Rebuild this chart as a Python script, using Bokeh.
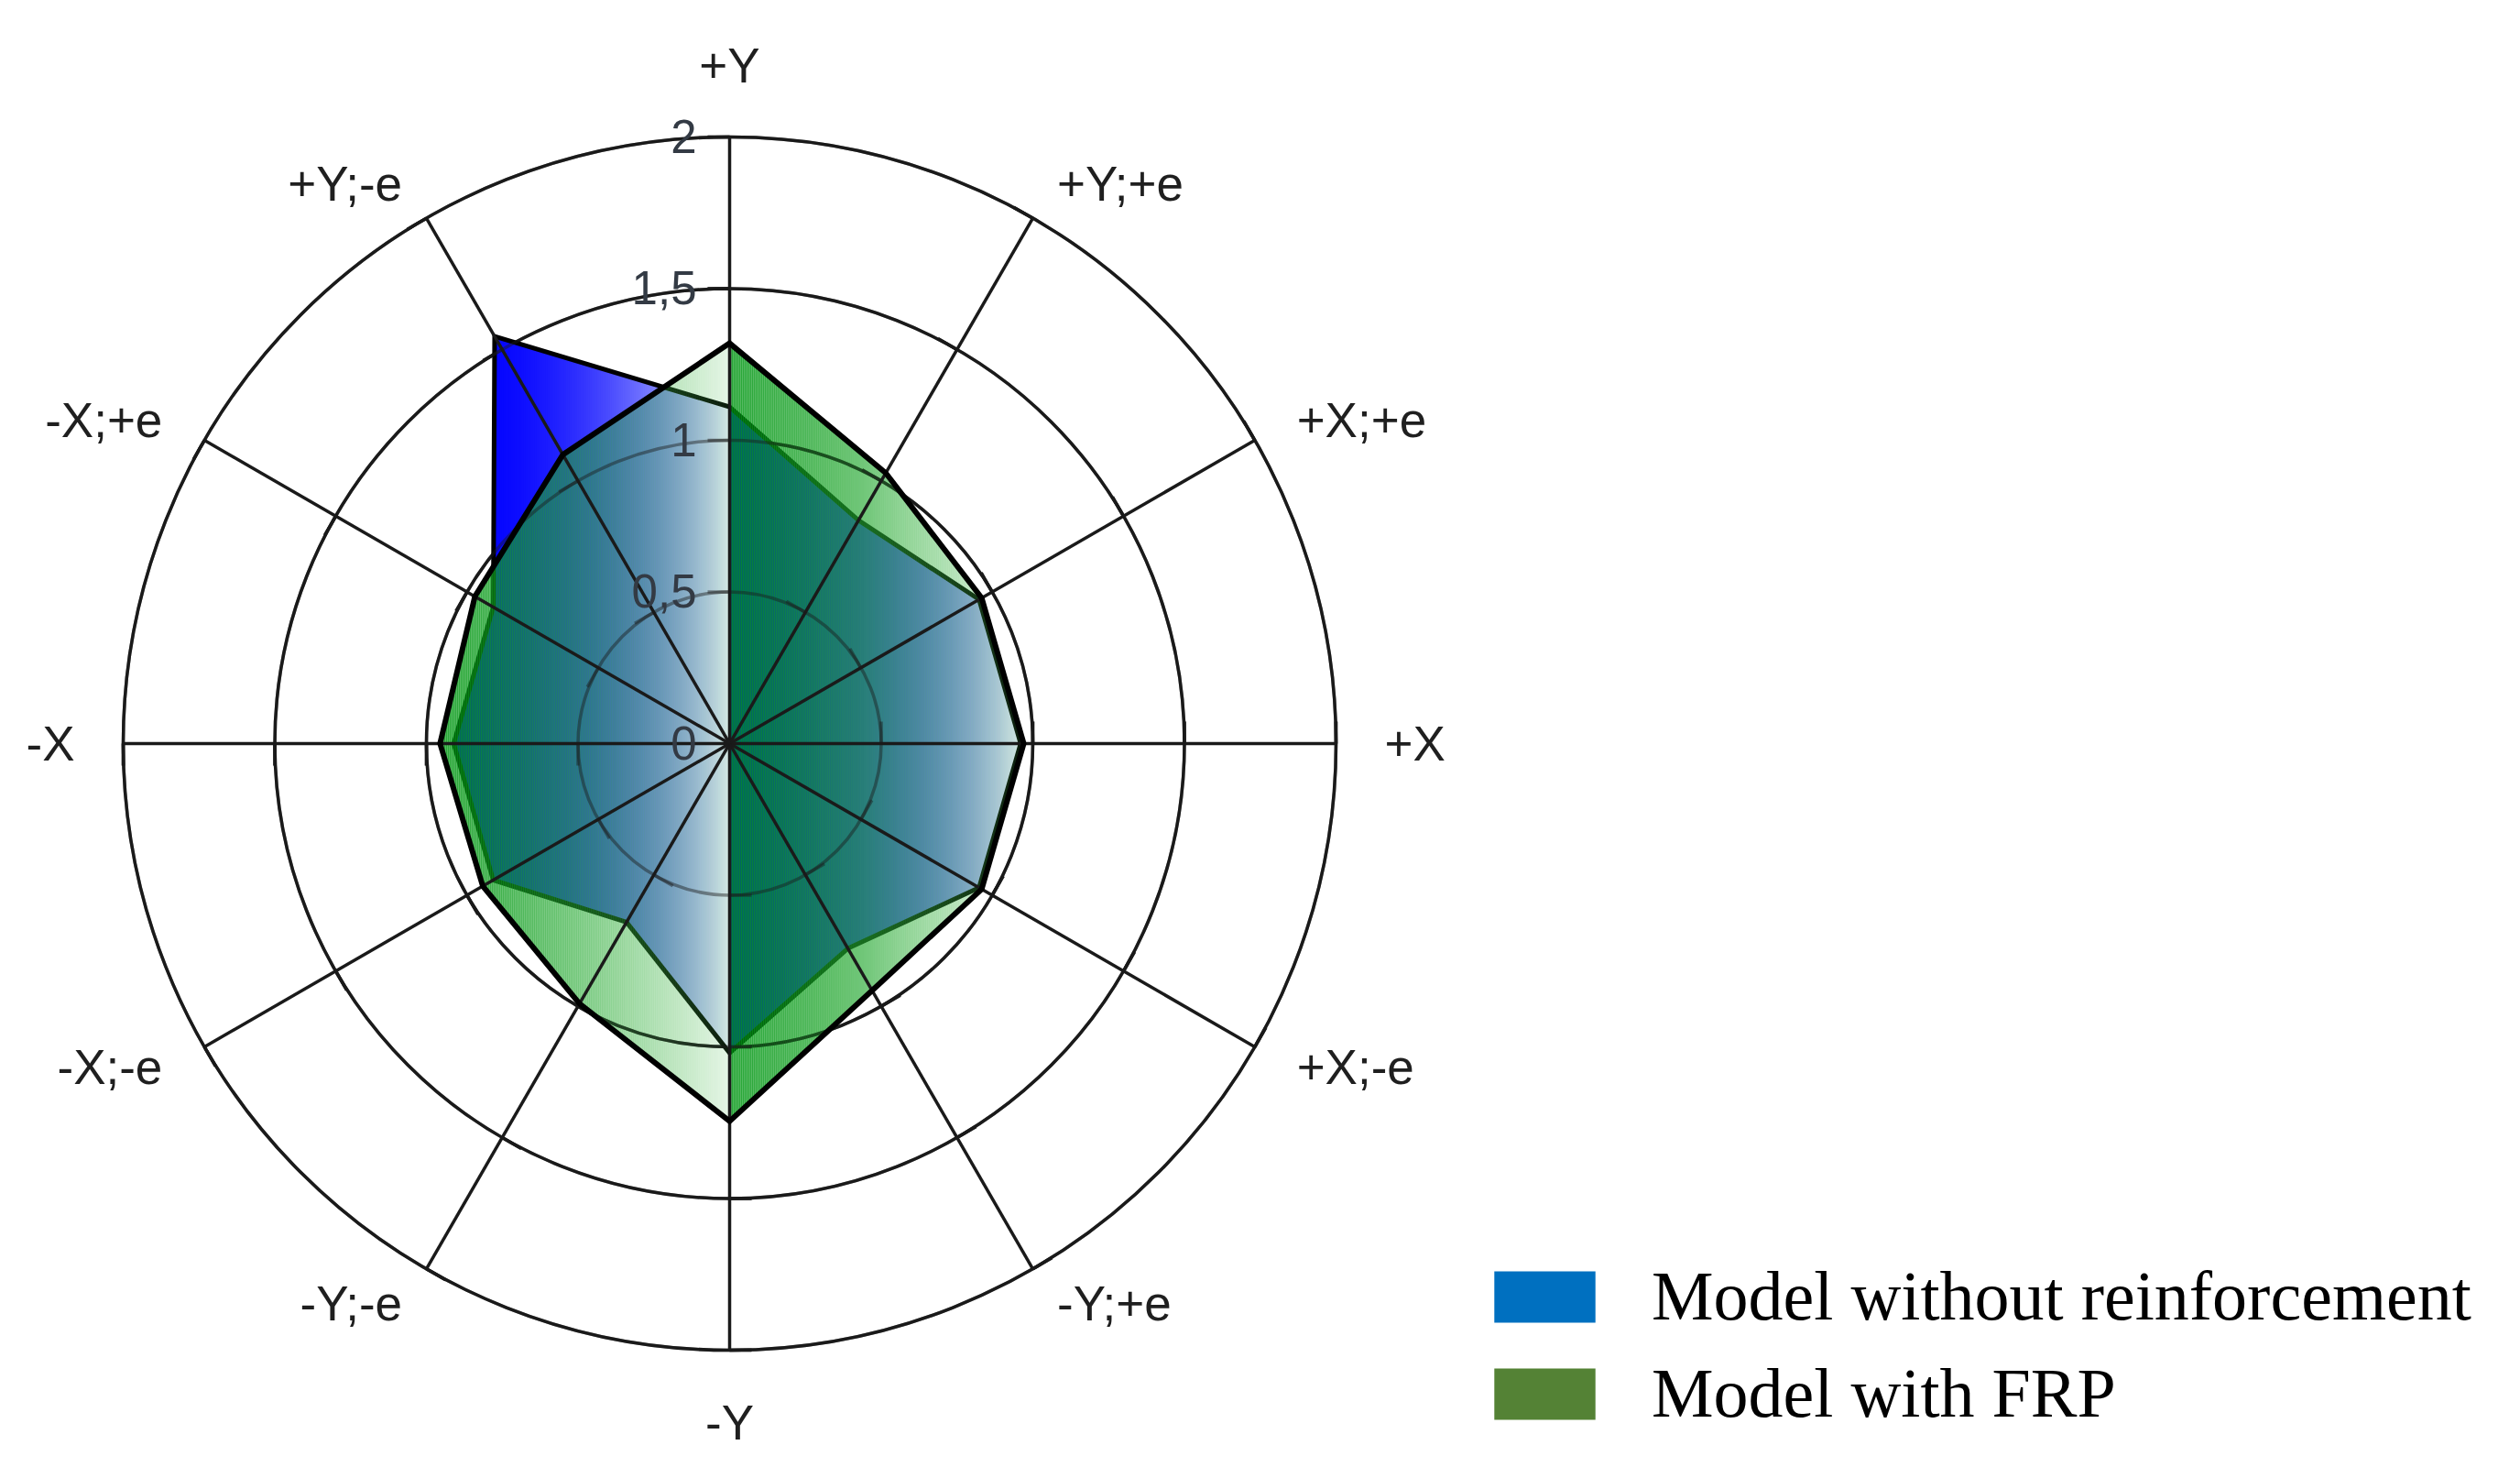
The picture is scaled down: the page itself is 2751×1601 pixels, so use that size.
import numpy as np
from bokeh.plotting import figure
from bokeh.models import ColumnDataSource, Legend, LegendItem, Range1d
from bokeh.embed import file_html
from bokeh.resources import INLINE
from bokeh.core.properties import value

# ---------------- data ----------------
categories = ["+Y", "+Y;+e", "+X;+e", "+X", "+X;-e", "-Y;+e",
              "-Y", "-Y;-e", "-X;-e", "-X", "-X;+e", "+Y;-e"]
without_reinforcement = [1.11, 0.85, 0.95, 0.96, 0.95, 0.78,
                         1.02, 0.68, 0.90, 0.91, 0.90, 1.55]
with_frp = [1.32, 1.03, 0.96, 0.97, 0.96, 0.94,
            1.245, 0.99, 0.94, 0.955, 0.97, 1.10]
ring_values = [0.5, 1.0, 1.5, 2.0]
tick_values = [0, 0.5, 1, 1.5, 2]
tick_labels = ["0", "0,5", "1", "1,5", "2"]
series_names = ["Model without reinforcement", "Model with FRP"]
legend_colors = ["#0070C0", "#548235"]

# ---------------- layout ----------------
W, H = 2735, 1585
UNIT = 331.0            # pixels per data unit
CX, CY = 796.0, 811.0   # centre of the radar in figure pixels (from top-left)
PX = 1.0 / UNIT

p = figure(width=W, height=H, output_backend="svg", toolbar_location=None,
           x_range=Range1d(-CX / UNIT, (W - CX) / UNIT),
           y_range=Range1d(-(H - CY) / UNIT, CY / UNIT),
           x_axis_type=None, y_axis_type=None, min_border=0,
           outline_line_color=None)
p.grid.visible = False
p.background_fill_color = "white"

n = len(categories)
theta = np.arange(n) * 2 * np.pi / n
sin_t, cos_t = np.sin(theta), np.cos(theta)


def poly_xy(vals):
    r = np.asarray(vals, dtype=float)
    return list(zip(r * sin_t, r * cos_t))


def clip_edge(pts, bound, keep_greater):
    out = []
    m = len(pts)
    for i in range(m):
        cur, prev = pts[i], pts[i - 1]
        cin = cur[0] >= bound if keep_greater else cur[0] <= bound
        pin = prev[0] >= bound if keep_greater else prev[0] <= bound
        if cin != pin:
            t = (bound - prev[0]) / (cur[0] - prev[0])
            out.append((bound, prev[1] + t * (cur[1] - prev[1])))
        if cin:
            out.append(cur)
    return out


def clip_slab(pts, a, b):
    q = clip_edge(pts, a, True)
    if len(q) < 3:
        return []
    q = clip_edge(q, b, False)
    return q if len(q) >= 3 else []


def lerp(c0, c1, s):
    return tuple(int(round(c0[i] + (c1[i] - c0[i]) * s)) for i in range(3))


def to_hex(c):
    return "#%02x%02x%02x" % c


def gradient_strips(vals, color_fn, alpha_fn, overlap_px):
    pts = poly_xy(vals)
    xs_all = [q[0] for q in pts]
    xs, ys, cols, alphas = [], [], [], []
    for lo, hi in ((min(xs_all), 0.0), (0.0, max(xs_all))):
        nstrip = max(1, int((hi - lo) * UNIT / 2.0))
        w = (hi - lo) / nstrip
        for i in range(nstrip):
            a = lo + i * w
            b = min(hi, a + w + overlap_px * PX)
            q = clip_slab(pts, a, b)
            if not q:
                continue
            t = (i + 0.5) / nstrip
            xs.append([v[0] for v in q])
            ys.append([v[1] for v in q])
            cols.append(to_hex(color_fn(t)))
            alphas.append(alpha_fn(t))
    return ColumnDataSource(dict(xs=xs, ys=ys, c=cols, a=alphas))


GRID = "#1a1a1a"
GW = 3.5

# ---------------- rings + spoke ticks ----------------
tx0, ty0, tx1, ty1 = [], [], [], []
TL = 24 * PX
for k in range(n):
    for r in ring_values:
        x0, y0 = r * sin_t[k], r * cos_t[k]
        tx0.append(x0); ty0.append(y0)
        tx1.append(x0 - TL * cos_t[k]); ty1.append(y0 + TL * sin_t[k])


def draw_rings(alpha):
    p.circle(x=[0] * len(ring_values), y=[0] * len(ring_values),
             radius=ring_values, fill_color=None, line_color=GRID,
             line_width=GW, line_alpha=alpha)
    p.segment(tx0, ty0, tx1, ty1, line_color=GRID, line_width=GW,
              line_alpha=alpha)


draw_rings(1.0)

# ---------------- blue series (opaque gradient) ----------------
blue_src = gradient_strips(
    without_reinforcement,
    lambda t: lerp((0, 0, 255), (236, 241, 252), t ** 2.0),
    lambda t: 1.0, overlap_px=0.8)
p.patches("xs", "ys", source=blue_src, fill_color="c", fill_alpha="a",
          line_color=None)
bx, by = zip(*poly_xy(without_reinforcement))
p.patch(list(bx), list(by), fill_color=None, line_color="black",
        line_width=5, line_join="miter")

# ---------------- green series (translucent gradient) ----------------
green_src = gradient_strips(
    with_frp,
    lambda t: lerp((0, 150, 18), (80, 190, 85), t),
    lambda t: 0.85 - 0.70 * t ** 1.6, overlap_px=0.0)
p.patches("xs", "ys", source=green_src, fill_color="c", fill_alpha="a",
          line_color=None)

# rings seen through the translucent fill
draw_rings(0.45)

# ---------------- spokes ----------------
p.segment([0] * n, [0] * n, list(2.0 * sin_t), list(2.0 * cos_t),
          line_color=GRID, line_width=GW)

gx, gy = zip(*poly_xy(with_frp))
p.patch(list(gx), list(gy), fill_color=None, line_color="black",
        line_width=6, line_join="miter")

# ---------------- value labels on +Y axis ----------------
p.text(x=[-36 * PX] * len(tick_values), y=[v + 1 * PX for v in tick_values],
       text=tick_labels, text_align="right", text_baseline="middle",
       text_font=value("Liberation Sans"), text_font_size="51px",
       text_color="#333a44")

# ---------------- category labels ----------------
LR = 2.16
lx, ly, la, lb = [], [], [], []
for k in range(n):
    s, c = sin_t[k], cos_t[k]
    lx.append(LR * s)
    if abs(s) < 1e-6:
        la.append("center")
        lb.append("bottom" if c > 0 else "top")
        ly.append(LR * c + (-4 * PX if c > 0 else 3 * PX))
    else:
        la.append("left" if s > 0 else "right")
        lb.append("middle")
        ly.append(LR * c - 9 * PX * c)
p.text(x=lx, y=ly, text=categories, text_align=la, text_baseline=lb,
       text_font=value("Liberation Sans"), text_font_size="53px",
       text_color="#1f1f1f")

# ---------------- legend ----------------
items = []
for name, col in zip(series_names, legend_colors):
    r = p.rect(x=[np.nan], y=[np.nan], width=1, height=1,
               fill_color=col, line_color=None)
    items.append(LegendItem(label=name, renderers=[r]))
legend = Legend(items=items, location=(1617, 21), orientation="vertical",
                glyph_width=138, glyph_height=70, label_standoff=48,
                label_text_font="Liberation Serif", label_text_font_size="76px",
                label_text_color="black", label_height=56, spacing=19,
                padding=0, margin=0, border_line_color=None,
                background_fill_alpha=0)
p.add_layout(legend)

open("out.html", "w").write(file_html(p, INLINE))
